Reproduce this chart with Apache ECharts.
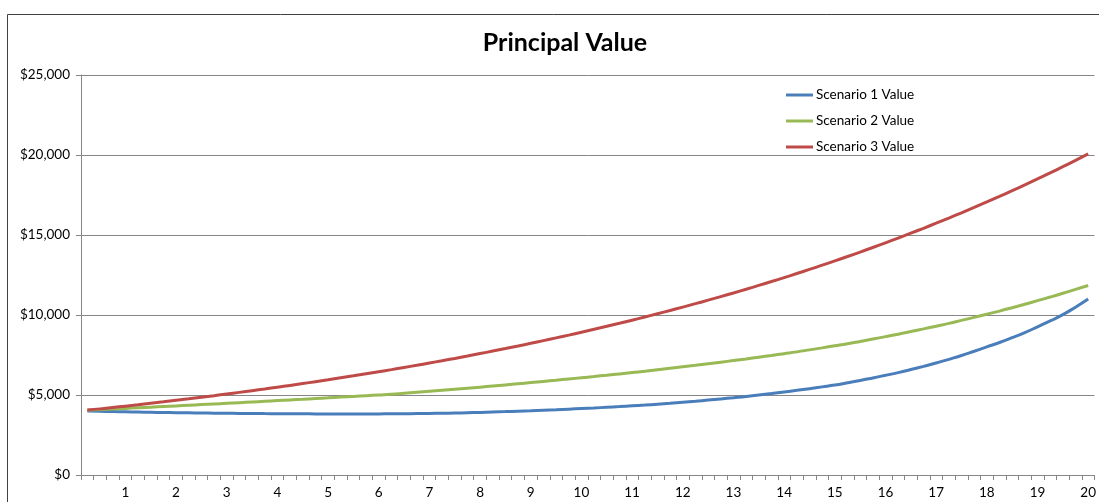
<!DOCTYPE html>
<html>
<head>
<meta charset="utf-8">
<script src="https://cdn.jsdelivr.net/npm/echarts@6/dist/echarts.min.js"></script>
<style>
html,body{margin:0;padding:0;background:#fff;}
#c{width:1099px;height:502px;}
</style>
</head>
<body>
<div id="c"></div>
<script>
const yearLabels = ['1','2','3','4','5','6','7','8','9','10','11','12','13','14','15','16','17','18','19','20'];
const seriesNames = ['Scenario 1 Value','Scenario 2 Value','Scenario 3 Value'];
const scenario1 = [4000,3982,3965,3949,3934,3920,3907,3895,3884,3874,3865,3857,3850,3843,3837,3832,3827,3823,3820,3818,
  3817,3817,3818,3820,3824,3830,3838,3848,3860,3874,3892,3912,3935,3961,3990,4018,4048,4080,4115,4152,
  4190,4233,4277,4323,4370,4424,4480,4545,4610,4682,4756,4832,4910,5000,5093,5190,5290,5397,5507,5620,
  5760,5905,6065,6230,6400,6590,6790,7000,7230,7470,7735,8005,8280,8585,8900,9260,9630,10020,10490,11000];
const scenario2 = [4050,4087,4125,4163,4202,4241,4280,4319,4359,4399,4440,4481,4522,4564,4606,4649,4692,4735,4779,4823,
  4868,4913,4958,5004,5050,5109,5169,5230,5292,5357,5424,5491,5559,5630,5702,5775,5849,5924,6000,6078,
  6156,6237,6319,6401,6485,6575,6667,6759,6853,6952,7051,7153,7255,7363,7472,7583,7696,7820,7946,8074,
  8204,8349,8497,8647,8800,8964,9131,9302,9476,9663,9853,10047,10245,10457,10674,10895,11121,11357,11598,11844];
const scenario3 = [4060,4133,4217,4304,4392,4482,4573,4667,4762,4860,4959,5061,5164,5270,5378,5488,5600,5715,5832,5951,
  6073,6197,6324,6453,6585,6720,6857,6998,7141,7287,7436,7588,7744,7902,8064,8229,8397,8569,8744,8923,
  9106,9292,9482,9676,9874,10076,10283,10493,10708,10927,11151,11379,11612,11850,12092,12340,12592,12850,13113,13381,
  13655,13934,14220,14511,14808,15111,15420,15736,16058,16386,16722,17064,17413,17770,18133,18504,18883,19270,19664,20067];

// quarterly categories: label only at each year end
const categories = [];
yearLabels.forEach(function(y){ categories.push('', '', '', y); });

const colors = ['#4a7ebb', '#98b954', '#be4b48'];
const font = 'Lato, "Open Sans", sans-serif';

const chart = echarts.init(document.getElementById('c'), null, {renderer: 'canvas'});
chart.setOption({
  animation: false,
  backgroundColor: '#ffffff',
  title: {
    text: 'Principal Value',
    left: 560, top: 25, textAlign: 'center',
    textStyle: {fontFamily: font, fontSize: 25, fontWeight: 'bold', color: '#000'}
  },
  legend: {
    orient: 'vertical',
    left: 781, top: 83,
    itemWidth: 27, itemHeight: 3, itemGap: 12,
    icon: 'rect',
    textStyle: {fontFamily: font, fontSize: 13.5, color: '#000', padding: [0,0,0,-2]},
    data: seriesNames
  },
  graphic: [{
    type: 'rect', left: 5, top: 12, silent: true,
    shape: {width: 1200, height: 600},
    style: {fill: 'none', stroke: '#404040', lineWidth: 1}
  }],
  grid: {left: 81, right: 2, top: 75, bottom: 27, containLabel: false},
  xAxis: {
    type: 'category',
    data: categories,
    boundaryGap: true,
    axisLine: {show: true, lineStyle: {color: '#868686', width: 1}},
    axisTick: {show: true, interval: 0, length: 5, lineStyle: {color: '#868686'}},
    axisLabel: {interval: 0, fontFamily: font, fontSize: 13.5, color: '#000', margin: 11},
    splitLine: {show: false}
  },
  yAxis: {
    type: 'value',
    min: 0, max: 25000, interval: 5000,
    axisLine: {show: true, lineStyle: {color: '#868686', width: 1}},
    axisTick: {show: true, length: 5, lineStyle: {color: '#868686'}},
    axisLabel: {
      fontFamily: font, fontSize: 13.5, color: '#000', margin: 11,
      formatter: function(v){ return '$' + v.toLocaleString('en-US'); }
    },
    splitLine: {show: true, lineStyle: {color: '#868686', width: 1}}
  },
  series: [
    {name: seriesNames[0], type: 'line', data: scenario1, smooth: true, showSymbol: false, symbol: 'none',
     lineStyle: {color: colors[0], width: 3}, itemStyle: {color: colors[0]}},
    {name: seriesNames[1], type: 'line', data: scenario2, smooth: true, showSymbol: false, symbol: 'none',
     lineStyle: {color: colors[1], width: 3}, itemStyle: {color: colors[1]}},
    {name: seriesNames[2], type: 'line', data: scenario3, smooth: true, showSymbol: false, symbol: 'none',
     lineStyle: {color: colors[2], width: 3}, itemStyle: {color: colors[2]}}
  ]
});
</script>
</body>
</html>
